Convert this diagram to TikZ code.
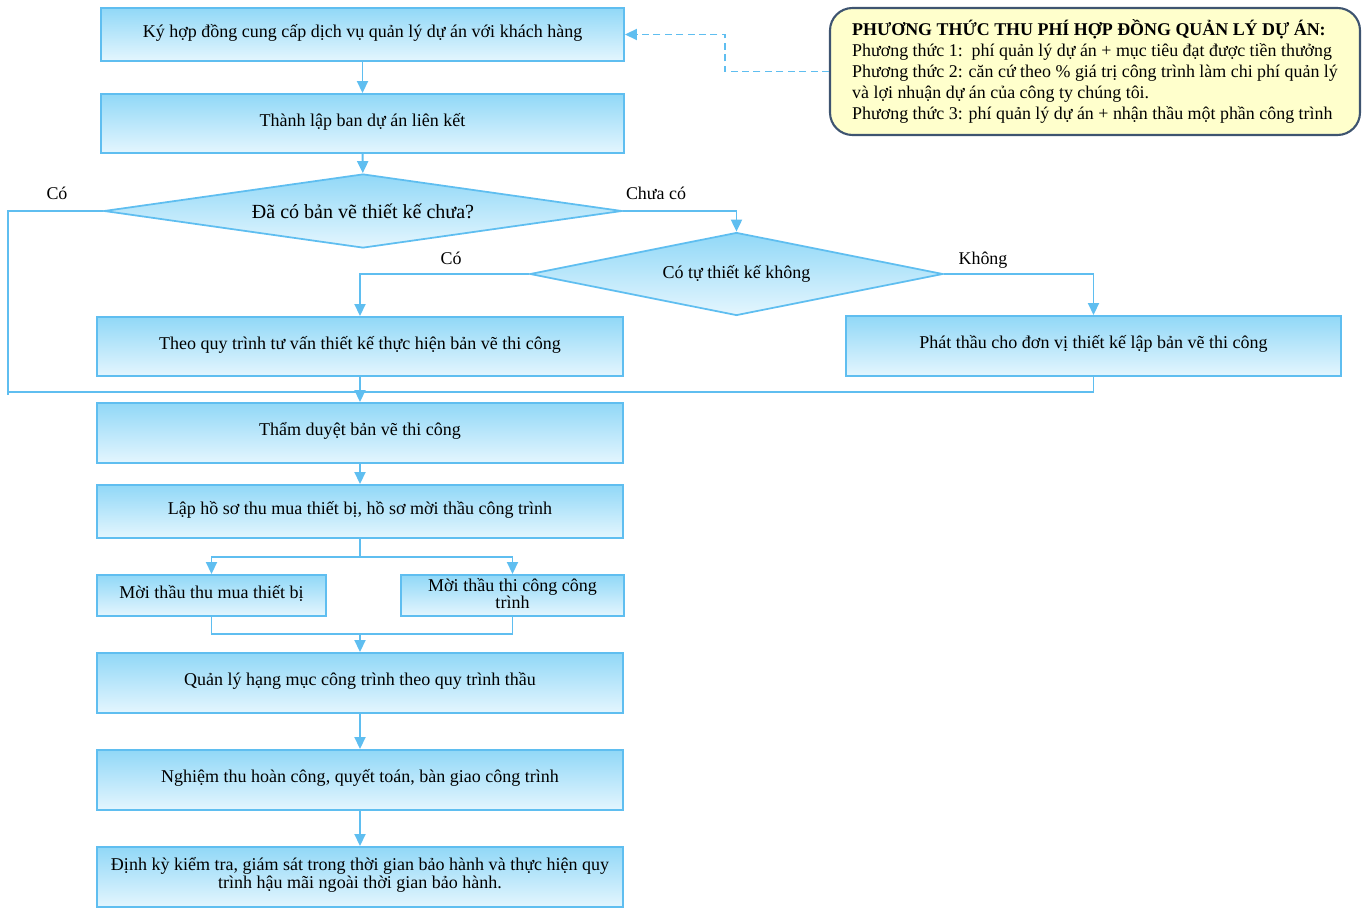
\documentclass[tikz,border=0pt]{standalone}
\usepackage{fontspec}
\setmainfont{Liberation Serif}
\usetikzlibrary{shapes.geometric,positioning,arrows.meta,calc}
\definecolor{flowline}{RGB}{95,190,240}
\definecolor{boxtop}{RGB}{145,216,247}
\definecolor{boxbot}{RGB}{228,246,254}
\definecolor{notefill}{RGB}{255,255,204}
\definecolor{noteedge}{RGB}{62,84,112}

\begin{document}
\begin{tikzpicture}[
  box/.style={rectangle, draw=flowline, line width=1.1pt, top color=boxtop, bottom color=boxbot, align=center, font=\fontsize{10.25}{9.8}\selectfont, minimum width=10.52cm, minimum height=1.2cm, inner sep=2pt, text depth=0.16cm},
  decision/.style={diamond, draw=flowline, line width=1pt, top color=boxtop, bottom color=boxbot, aspect=6, inner sep=0pt},
  arrow/.style={-{Triangle[length=2.4mm, width=2.2mm]}, flowline, line width=1.1pt},
  link/.style={flowline, line width=1.1pt},
  dasharrow/.style={arrow, dash pattern=on 4pt off 2.5pt},
  lbl/.style={font=\fontsize{10.2}{10.2}\selectfont},
  note/.style={rectangle, rounded corners=0.45cm, draw=noteedge, line width=1.2pt, fill=notefill, align=left, font=\fontsize{10.2}{12}\selectfont, minimum width=10.6cm, minimum height=2.54cm},
]
\useasboundingbox (0,0) rectangle (27.36,-18.28);

% === MAIN FLOW ===
\node[box, minimum width=10.46cm, minimum height=1.06cm] (sign) at (7.25,-0.69) {Ký hợp đồng cung cấp dịch vụ quản lý dự án với khách hàng};
\node[box, minimum width=10.46cm, minimum height=1.18cm] (board) at (7.25,-2.47) {Thành lập ban dự án liên kết};
\node[decision, minimum width=10.36cm, minimum height=1.48cm, font=\fontsize{11.4}{11.4}\selectfont] (hasdwg) at (7.26,-4.22) {Đã có bản vẽ thiết kế chưa?};
\node[decision, minimum width=8.26cm, minimum height=1.66cm, font=\fontsize{10.25}{10.25}\selectfont] (selfdes) at (14.73,-5.48) {Có tự thiết kế không};
\node[box, minimum height=1.18cm] (consult) at (7.2,-6.93) {Theo quy trình tư vấn thiết kế thực hiện bản vẽ thi công};
\node[box, minimum width=9.9cm] (outsrc) at (21.87,-6.92) {Phát thầu cho đơn vị thiết kế lập bản vẽ thi công};
\node[box] (approve) at (7.2,-8.66) {Thẩm duyệt bản vẽ thi công};
\node[box, minimum height=1.06cm] (docs) at (7.2,-10.23) {Lập hồ sơ thu mua thiết bị, hồ sơ mời thầu công trình};
\node[box, minimum width=4.58cm, minimum height=0.82cm] (bidequip) at (4.23,-11.91) {Mời thầu thu mua thiết bị};
\node[box, minimum width=4.46cm, minimum height=0.82cm, text depth=0.07cm, inner ysep=0.5pt] (bidbuild) at (10.25,-11.91) {Mời thầu thi công công\\trình};
\node[box] (manage) at (7.2,-13.66) {Quản lý hạng mục công trình theo quy trình thầu};
\node[box] (accept) at (7.2,-15.6) {Nghiệm thu hoàn công, quyết toán, bàn giao công trình};
\node[box] (warranty) at (7.2,-17.54) {Định kỳ kiểm tra, giám sát trong thời gian bảo hành và thực hiện quy\\trình hậu mãi ngoài thời gian bảo hành.};

% === FEE NOTE ===
\node[note] (note) at (21.9,-1.43)
  {\textbf{PHƯƠNG THỨC THU PHÍ HỢP ĐỒNG QUẢN LÝ DỰ ÁN:}\\
   Phương thức 1:\ \ phí quản lý dự án + mục tiêu đạt được tiền thưởng\\
   Phương thức 2: căn cứ theo \% giá trị công trình làm chi phí quản lý\\
   và lợi nhuận dự án của công ty chúng tôi.\\
   Phương thức 3: phí quản lý dự án + nhận thầu một phần công trình};

% === CONNECTORS ===
\draw[arrow] (sign) -- (board);
\draw[arrow] (board) -- (hasdwg);
\draw[arrow] (hasdwg.east) -| (selfdes.north);
\draw[arrow] (selfdes.west) -| (consult.north);
\draw[arrow] (selfdes.east) -| (outsrc.north);

\coordinate (leftrail) at (0.16,-7.9);
\coordinate (mergebar) at (0.16,-7.84);
\draw[link] (hasdwg.west) -| (leftrail);
\draw[link] (outsrc.south) |- (mergebar);

\draw[arrow] (consult) -- (approve);
\draw[arrow] (approve) -- (docs);

\draw[link] (docs.south) -- ++(0,-0.36) coordinate (split);
\draw[arrow] (split) -| (bidequip.north);
\draw[arrow] (split) -| (bidbuild.north);

\coordinate (join) at (7.2,-12.68);
\draw[link] (bidequip.south) |- (join) -| (bidbuild.south);
\draw[arrow] (join) -- (manage);
\draw[arrow] (manage) -- (accept);
\draw[arrow] (accept) -- (warranty);

\draw[dasharrow] (note.west) -- ++(-2.08,0) |- (sign.east);

% branch labels
\node[lbl] (yes1) at (1.14,-3.86) {Có};
\node[lbl] (no1) at (13.12,-3.86) {Chưa có};
\node[lbl] (yes2) at (9.02,-5.16) {Có};
\node[lbl] (no2) at (19.66,-5.2) {Không};
\end{tikzpicture}
\end{document}
